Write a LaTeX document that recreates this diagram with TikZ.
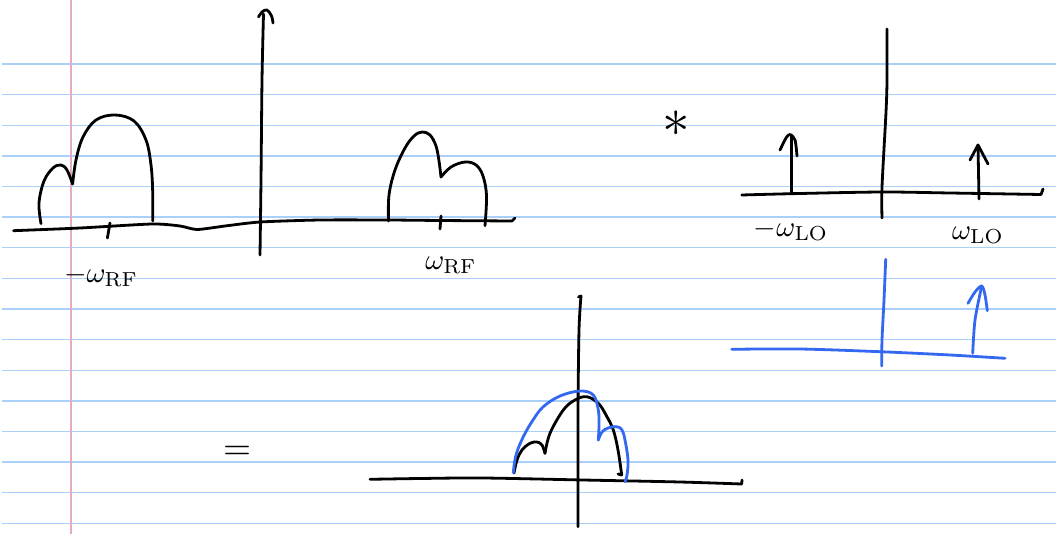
\documentclass[tikz,border=0pt]{standalone}
\usepackage{tikz}
\definecolor{rule}{RGB}{170,208,250}
\definecolor{margin}{RGB}{228,172,192}
\definecolor{penblue}{RGB}{52,104,240}
\newcommand{\lblsz}[1]{\scalebox{2.9}{#1}}
\tikzset{
  pen/.style={line width=2.8pt, line cap=round, line join=round, black},
  bluepen/.style={pen, draw=penblue},
  lbl/.style={inner sep=0pt}
}
\begin{document}
\begin{tikzpicture}[x=1pt,y=-1pt]
\useasboundingbox (0,0) rectangle (1056,534);
\fill[white] (0,0) rectangle (1056,534);
% ruled paper
\foreach \k in {0,...,15} {
  \draw[rule, line width=1.4pt] (2,{64.2+30.6*\k}) -- (1056,{64.2+30.6*\k});
}
\draw[margin, line width=1.4pt] (71,0) -- (71,534);

% ---------- top-left spectrum ----------
\draw[pen] plot[smooth, tension=0.4] coordinates {(13.5,230.7) (80,228) (152,224) (180,226) (197,229.5) (225,226) (260,222) (320,220) (388,220) (440,220.5) (512,221)} -- (515,218);
\draw[pen] plot[smooth, tension=0.5] coordinates {(260,255) (261,180) (262,80) (263.5,14)};
\draw[pen] plot[smooth, tension=0.6] coordinates {(258.5,17) (262,12) (267,10) (271.5,16) (273,23)};
\draw[pen] (110,223) -- (107.4,238);
\draw[pen] (441,216) -- (440,229);
\draw[pen] plot[smooth, tension=0.6] coordinates {(41,223.6) (39,203) (44,181) (53,168) (61,165) (67,170) (72.6,184)};
\draw[pen] plot[smooth, tension=0.6] coordinates {(72.6,184) (76,160) (83,137) (96,120) (115,115) (134,121) (146,140) (151,165) (152.7,192) (152.7,221)};
\draw[pen] plot[smooth, tension=0.6] coordinates {(388.5,221) (389,195) (395,170) (405,148) (414,136) (422,132) (430,135) (436,146) (439,161) (441,177)};
\draw[pen] plot[smooth, tension=0.6] coordinates {(441,177) (451,167) (465,162) (476,165) (483,176) (486.5,196) (485,225.7)};
\node[lbl] (wrfneg) at (101,276) {\lblsz{$-\omega_{\mathrm{RF}}$}};
\node[lbl] (wrf) at (451,265) {\lblsz{$\omega_{\mathrm{RF}}$}};

% ---------- convolution ----------
\node[lbl] (conv) at (676,124) {\scalebox{5.5}{$*$}};

% ---------- top-right LO spectrum ----------
\draw[pen] plot[smooth, tension=0.5] coordinates {(741.7,195) (800,193.5) (883,192) (950,193) (1041,194.5)} -- (1043,189);
\draw[pen] plot[smooth, tension=0.5] coordinates {(887,29) (887,80) (886,112) (882,187) (882,218)};
\draw[pen] (791.7,193) -- (791.7,135);
\draw[pen] plot[smooth, tension=0.5] coordinates {(780,150) (786,138) (790,134.5) (795,140) (797,156)};
\draw[pen] (979,199) -- (978,145);
\draw[pen] (970,160) -- (978,145) -- (988,164);
\node[lbl] (wlo-neg) at (791,230) {\lblsz{$-\omega_{\mathrm{LO}}$}};
\node[lbl] (wlo) at (978,235) {\lblsz{$\omega_{\mathrm{LO}}$}};

% ---------- blue sketch ----------
\draw[bluepen] plot[smooth, tension=0.5] coordinates {(731.7,349.3) (800,349) (880,351.7) (950,355) (1005,358.3)};
\draw[bluepen] plot[smooth, tension=0.5] coordinates {(885.7,259.3) (884,300) (882,340) (881.7,366)};
\draw[bluepen] plot[smooth, tension=0.5] coordinates {(972.7,353.3) (975,320) (981.7,286)};
\draw[bluepen] plot[smooth, tension=0.5] coordinates {(968,303.3) (975,292) (981.7,286) (985,295) (987.3,310.7)};

% ---------- equals ----------
\node[lbl] (eq) at (237,453) {\scalebox{3.6}{$=$}};

% ---------- bottom result ----------
\draw[pen] plot[smooth, tension=0.5] coordinates {(370,479.3) (420,478.5) (483,478) (583,480) (680,482) (741.7,484)} -- (742,480);
\draw[pen] plot[smooth, tension=0.5] coordinates {(581,296) (579,330) (578,413) (578,526.7)};
\draw[pen] (578.5,297) -- (581,296);
\draw[pen] plot[smooth, tension=0.6] coordinates {(514,473) (517,460) (522,450) (530,443.3) (537,442) (542,445) (545,453.3)};
\draw[pen] plot[smooth, tension=0.6] coordinates {(545,453.3) (550,433.3) (563.3,410) (575,400) (586.7,396.7) (598.3,403.3) (606,415) (613.3,430) (618,450) (621.7,475)} -- (618,474);
\draw[bluepen] plot[smooth, tension=0.6] coordinates {(513.3,472.7) (516,455) (523.3,436.7) (533,420) (543.3,406.7) (560,396) (580,391) (593.3,395) (598.3,410) (599,425) (598.3,440)};
\draw[bluepen] plot[smooth, tension=0.6] coordinates {(598.3,440) (602,432) (608,428) (616.7,426.7) (622,430) (625,440) (628,460) (627,475) (625,481.7)};
\end{tikzpicture}
\end{document}
